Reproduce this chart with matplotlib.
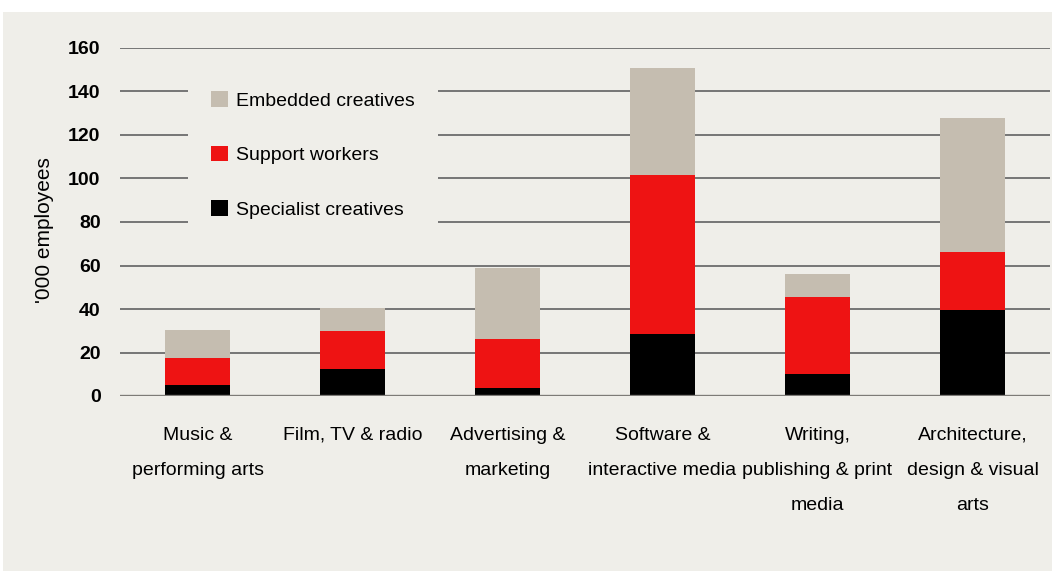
import numpy as np
import matplotlib.pyplot as plt
from matplotlib.patches import Rectangle

# Creative employment by segment ('000 employees)
segments = ["Music &\nperforming arts", "Film, TV & radio", "Advertising &\nmarketing",
            "Software &\ninteractive media", "Writing,\npublishing & print\nmedia",
            "Architecture,\ndesign & visual\narts"]
specialist = [5.0, 12.4, 3.7, 28.4, 10.0, 39.4]
support = [12.5, 17.5, 22.5, 73.1, 35.4, 26.6]
embedded = [12.8, 10.6, 32.7, 49.2, 10.6, 61.7]

yticks = [0, 20, 40, 60, 80, 100, 120, 140, 160]

panel_bg = "#efeee9"
c_emb, c_sup, c_spec = "#c5bdb0", "#ee1313", "#000000"

plt.rcParams['font.family'] = ['Liberation Sans', 'DejaVu Sans']

fig = plt.figure(figsize=(10.52, 5.71), dpi=100, facecolor="white")
W, H = 1052, 571
fig.patches.append(Rectangle((3 / W, 0), 1 - 3 / W, (H - 12) / H,
                             transform=fig.transFigure, facecolor=panel_bg,
                             edgecolor="none", zorder=-10))

ax = fig.add_axes([120 / W, (H - 396) / H, (1050 - 120) / W, (396 - 48) / H])
ax.set_zorder(1)
ax.set_facecolor("none")

x = np.arange(len(segments))
spec = np.array(specialist)
sup = np.array(support)
emb = np.array(embedded)
width = 0.42
ax.bar(x, spec, width, color=c_spec, label="Specialist creatives", zorder=3)
ax.bar(x, sup, width, bottom=spec, color=c_sup, label="Support workers", zorder=3)
ax.bar(x, emb, width, bottom=spec + sup, color=c_emb, label="Embedded creatives", zorder=3)

ax.set_xlim(-0.5, len(segments) - 0.5)
ax.set_ylim(0, 160)
ax.set_yticks(yticks)
for v in yticks[1:]:
    ax.axhline(v, color="#6c6c6c", lw=1.3, zorder=1)
ax.axhline(0, color="#7d7b77", lw=2.4, zorder=4)

for s in ax.spines.values():
    s.set_visible(False)
ax.tick_params(axis="y", length=0, pad=14, labelsize=14)
ax.tick_params(axis="x", length=0, pad=22, labelsize=14)
for lab in ax.get_yticklabels():
    lab.set_fontweight("bold")
ax.set_xticks(x)
ax.set_xticklabels(segments)
for lab in ax.get_xticklabels():
    lab.set_linespacing(2.42)

ax.set_ylabel("'000 employees", fontsize=15)
ax.yaxis.set_label_coords(-0.071, 0.477)

handles, labels = ax.get_legend_handles_labels()
leg = ax.legend(handles[::-1], labels[::-1], loc="upper left",
                bbox_to_anchor=(178 / W, (H - 58) / H), bbox_transform=fig.transFigure,
                frameon=True, facecolor=panel_bg, edgecolor="none", framealpha=1,
                fontsize=14, handlelength=0.86, handleheight=0.86, handletextpad=0.4,
                labelspacing=1.86, borderpad=1.2, fancybox=False)
leg.set_zorder(5)

fig.savefig("out.png", dpi=100, facecolor="white")
